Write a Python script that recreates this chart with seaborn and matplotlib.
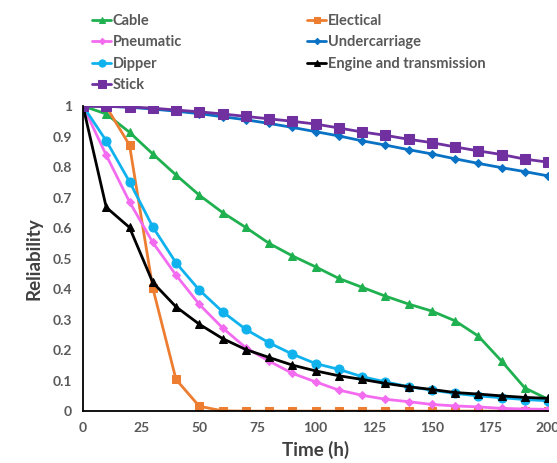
import matplotlib
matplotlib.use("Agg")
import matplotlib.pyplot as plt
import seaborn as sns
import numpy as np

# time points (h)
time_h = list(range(0, 201, 10))

cable = [1.0, 0.974, 0.914, 0.843, 0.774, 0.708, 0.651, 0.602, 0.55, 0.509,
         0.473, 0.435, 0.406, 0.377, 0.351, 0.328, 0.296, 0.246, 0.164, 0.076, 0.039]
electical = [1.0, 0.998, 0.872, 0.404, 0.104, 0.016, 0.001, 0.0, 0.0, 0.0,
             0.0, 0.0, 0.0, 0.0, 0.0, 0.0, 0.0, 0.0, 0.0, 0.0, 0.0]
pneumatic = [1.0, 0.839, 0.686, 0.553, 0.446, 0.35, 0.273, 0.208, 0.164, 0.124,
             0.096, 0.069, 0.052, 0.039, 0.031, 0.022, 0.017, 0.014, 0.009, 0.007, 0.006]
undercarriage = [1.0, 0.999, 0.996, 0.99, 0.983, 0.975, 0.965, 0.955, 0.943, 0.93,
                 0.916, 0.902, 0.886, 0.872, 0.857, 0.843, 0.827, 0.812, 0.798, 0.785, 0.771]
dipper = [1.0, 0.886, 0.752, 0.604, 0.486, 0.397, 0.326, 0.268, 0.224, 0.187,
          0.156, 0.137, 0.113, 0.096, 0.08, 0.069, 0.058, 0.05, 0.044, 0.038, 0.034]
engine = [1.0, 0.668, 0.602, 0.422, 0.342, 0.285, 0.238, 0.202, 0.176, 0.151,
          0.132, 0.116, 0.104, 0.091, 0.08, 0.071, 0.061, 0.056, 0.05, 0.045, 0.042]
stick = [1.0, 0.999, 0.997, 0.993, 0.987, 0.981, 0.974, 0.966, 0.958, 0.95,
         0.941, 0.928, 0.915, 0.904, 0.891, 0.88, 0.866, 0.853, 0.841, 0.826, 0.816]

names = ['Cable', 'Electical', 'Pneumatic', 'Undercarriage', 'Dipper',
         'Engine and transmission', 'Stick']
series = [cable, electical, pneumatic, undercarriage, dipper, engine, stick]
colors = ['#1FB04F', '#ED7D31', '#F36CF0', '#0A72C4', '#10B2EE', '#000000', '#7030A0']
markers = ['^', 's', 'D', 'D', 'o', '^', 's']
msizes = [6, 6, 4, 4, 6.5, 6, 7]

sns.set_style('white')
plt.rcParams['font.family'] = ['Lato', 'DejaVu Sans']

fig = plt.figure(figsize=(5.57, 4.63), dpi=100)
ax = fig.add_axes([0.149, 0.112, 0.835, 0.659])

handles = {}
for nm, vals, c, m, ms in zip(names, series, colors, markers, msizes):
    sns.lineplot(x=time_h, y=vals, ax=ax, color=c, marker=m, markersize=ms,
                 markeredgecolor=c, linewidth=2, label=nm, legend=False)
    handles[nm] = ax.lines[-1]

ax.set_xlim(0, 200)
ax.set_ylim(0, 1)
ax.set_xticks(np.arange(0, 201, 25))
ax.set_yticks(np.arange(0, 1.01, 0.1))
ax.set_yticklabels(['0'] + [f'{v:.1f}' for v in np.arange(0.1, 0.95, 0.1)] + ['1'])
sns.despine(ax=ax)
for s in ['left', 'bottom']:
    ax.spines[s].set_color('black')
    ax.spines[s].set_linewidth(1.3)
ax.tick_params(axis='both', direction='out', length=4, width=1, color='black',
               labelsize=10, labelcolor='#595959', pad=4)
for lab in ax.get_xticklabels() + ax.get_yticklabels():
    lab.set_fontweight('bold')

ax.set_xlabel('Time (h)', fontsize=13.5, fontweight='bold', color='#404040', labelpad=5)
ax.set_ylabel('Reliability', fontsize=13.5, fontweight='bold', color='#404040', labelpad=7)

order = ['Cable', 'Pneumatic', 'Dipper', 'Stick', 'Electical', 'Undercarriage',
         'Engine and transmission']
leg = fig.legend([handles[n] for n in order], order, ncol=2, frameon=False,
                 loc='upper left', bbox_to_anchor=(0.142, 0.998),
                 prop={'weight': 'bold', 'size': 10.5}, handlelength=1.3,
                 handletextpad=0.1, labelspacing=0.5, columnspacing=8.6,
                 markerscale=0.8)
for t in leg.get_texts():
    t.set_color('#595959')

fig.savefig('out.png', dpi=100)
